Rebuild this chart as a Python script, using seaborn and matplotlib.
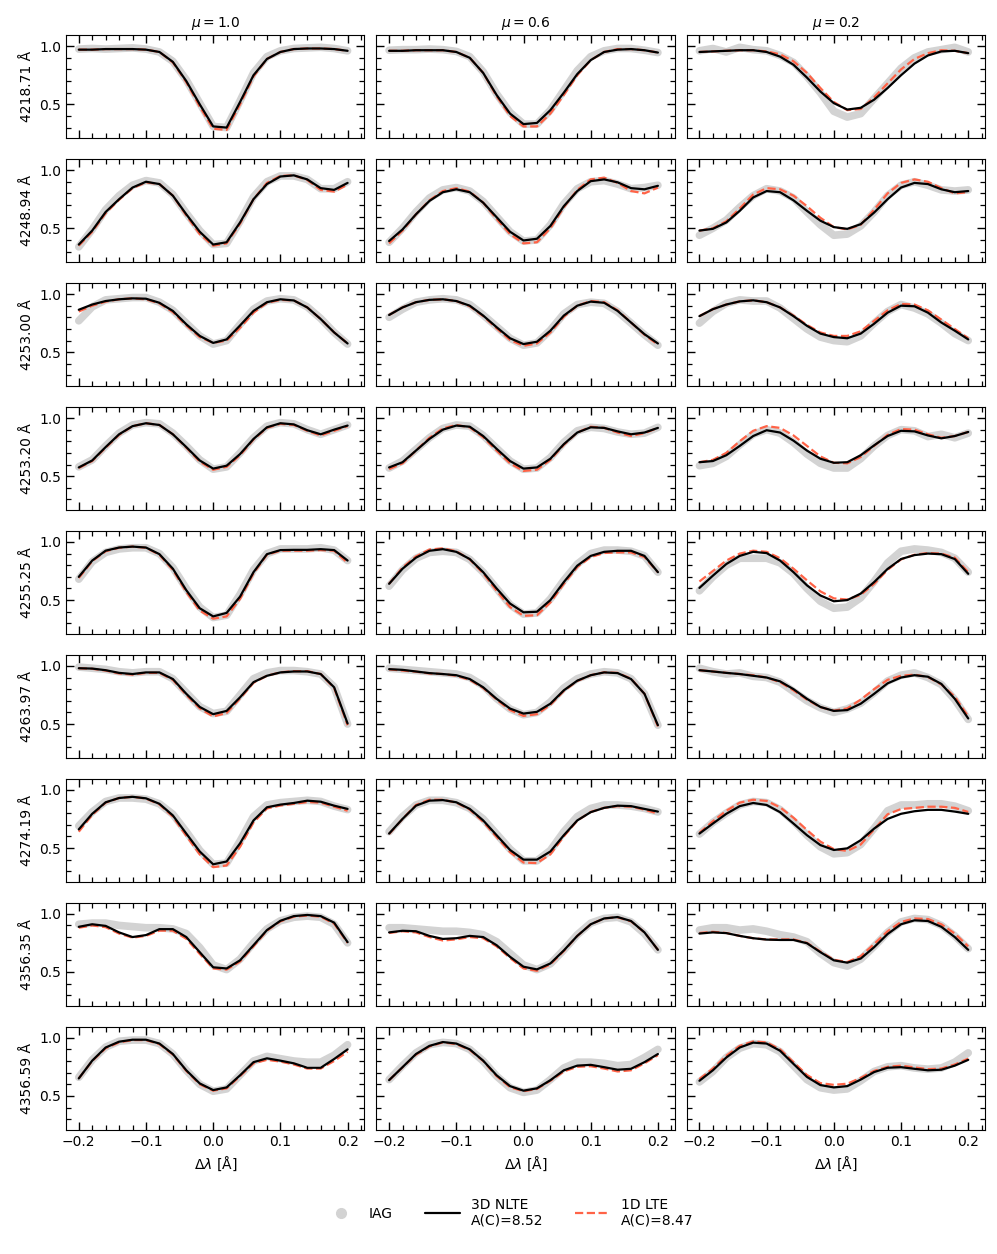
import numpy as np
import pandas as pd
import matplotlib
matplotlib.use("Agg")
import matplotlib.pyplot as plt
import seaborn as sns
from matplotlib.lines import Line2D
from matplotlib.ticker import AutoMinorLocator

# wavelength offset grid [A]
dlam = [-0.20, -0.18, -0.16, -0.14, -0.12, -0.10, -0.08, -0.06, -0.04, -0.02, 0.00,
        0.02, 0.04, 0.06, 0.08, 0.10, 0.12, 0.14, 0.16, 0.18, 0.20]
mus = [1.0, 0.6, 0.2]
line_names = ["4218.71", "4248.94", "4253.00", "4253.20", "4255.25",
              "4263.97", "4274.19", "4356.35", "4356.59"]

# each list: [mu=1.0, mu=0.6, mu=0.2]
nlte_4218 = [[0.97, 0.97, 0.975, 0.975, 0.975, 0.97, 0.95, 0.865, 0.70, 0.50, 0.31, 0.30, 0.52, 0.75, 0.89, 0.95, 0.975, 0.98, 0.98, 0.975, 0.96],
             [0.96, 0.96, 0.965, 0.965, 0.965, 0.95, 0.90, 0.77, 0.58, 0.42, 0.33, 0.34, 0.45, 0.60, 0.76, 0.88, 0.95, 0.97, 0.975, 0.965, 0.945],
             [0.95, 0.955, 0.96, 0.965, 0.965, 0.95, 0.91, 0.84, 0.73, 0.61, 0.51, 0.455, 0.47, 0.54, 0.64, 0.75, 0.85, 0.92, 0.955, 0.96, 0.94]]
lte_4218 = [[0.97, 0.97, 0.975, 0.975, 0.975, 0.97, 0.95, 0.86, 0.69, 0.48, 0.29, 0.28, 0.50, 0.74, 0.89, 0.95, 0.975, 0.98, 0.98, 0.975, 0.96],
            [0.96, 0.96, 0.965, 0.965, 0.965, 0.95, 0.90, 0.77, 0.57, 0.40, 0.31, 0.31, 0.42, 0.58, 0.75, 0.88, 0.95, 0.975, 0.975, 0.965, 0.945],
            [0.95, 0.955, 0.96, 0.965, 0.965, 0.955, 0.93, 0.87, 0.77, 0.64, 0.52, 0.45, 0.46, 0.56, 0.68, 0.80, 0.89, 0.94, 0.965, 0.96, 0.94]]
iag_4218 = [[0.975, 0.98, 0.975, 0.98, 0.985, 0.975, 0.95, 0.87, 0.71, 0.51, 0.31, 0.30, 0.53, 0.77, 0.91, 0.96, 0.98, 0.985, 0.99, 0.98, 0.96],
            [0.965, 0.97, 0.97, 0.975, 0.97, 0.955, 0.91, 0.78, 0.59, 0.43, 0.33, 0.33, 0.45, 0.62, 0.79, 0.91, 0.96, 0.98, 0.98, 0.965, 0.945],
            [0.96, 0.98, 0.95, 0.99, 0.97, 0.96, 0.92, 0.86, 0.74, 0.60, 0.44, 0.39, 0.42, 0.55, 0.68, 0.81, 0.90, 0.95, 0.97, 0.99, 0.95]]

nlte_4248 = [[0.36, 0.48, 0.64, 0.75, 0.85, 0.90, 0.88, 0.78, 0.62, 0.47, 0.36, 0.38, 0.55, 0.75, 0.88, 0.945, 0.955, 0.92, 0.845, 0.83, 0.89],
             [0.39, 0.49, 0.62, 0.735, 0.81, 0.835, 0.81, 0.72, 0.595, 0.47, 0.395, 0.41, 0.52, 0.69, 0.82, 0.905, 0.92, 0.895, 0.845, 0.835, 0.865],
             [0.48, 0.495, 0.55, 0.65, 0.765, 0.82, 0.81, 0.74, 0.65, 0.565, 0.51, 0.495, 0.535, 0.635, 0.75, 0.85, 0.89, 0.88, 0.835, 0.81, 0.82]]
lte_4248 = [[0.35, 0.47, 0.63, 0.745, 0.845, 0.895, 0.88, 0.78, 0.61, 0.45, 0.35, 0.37, 0.54, 0.75, 0.89, 0.95, 0.955, 0.915, 0.83, 0.815, 0.875],
            [0.37, 0.48, 0.62, 0.74, 0.82, 0.845, 0.815, 0.72, 0.58, 0.45, 0.37, 0.38, 0.50, 0.68, 0.83, 0.92, 0.935, 0.89, 0.82, 0.80, 0.85],
            [0.48, 0.50, 0.56, 0.67, 0.79, 0.845, 0.835, 0.78, 0.69, 0.59, 0.51, 0.49, 0.53, 0.66, 0.80, 0.89, 0.92, 0.90, 0.845, 0.80, 0.81]]
iag_4248 = [[0.34, 0.49, 0.66, 0.78, 0.87, 0.91, 0.89, 0.79, 0.63, 0.48, 0.36, 0.37, 0.56, 0.77, 0.90, 0.95, 0.95, 0.92, 0.84, 0.84, 0.90],
            [0.38, 0.50, 0.64, 0.76, 0.83, 0.85, 0.82, 0.73, 0.60, 0.47, 0.39, 0.40, 0.53, 0.71, 0.84, 0.90, 0.91, 0.88, 0.84, 0.85, 0.87],
            [0.44, 0.50, 0.57, 0.68, 0.78, 0.84, 0.82, 0.76, 0.64, 0.53, 0.44, 0.45, 0.52, 0.64, 0.78, 0.87, 0.90, 0.87, 0.83, 0.82, 0.83]]

nlte_4253a = [[0.865, 0.91, 0.94, 0.955, 0.963, 0.96, 0.925, 0.855, 0.74, 0.64, 0.58, 0.61, 0.73, 0.855, 0.93, 0.955, 0.945, 0.885, 0.785, 0.67, 0.575],
              [0.82, 0.885, 0.93, 0.95, 0.955, 0.94, 0.90, 0.815, 0.715, 0.62, 0.57, 0.59, 0.685, 0.815, 0.90, 0.935, 0.925, 0.855, 0.755, 0.655, 0.575],
              [0.81, 0.87, 0.91, 0.937, 0.946, 0.93, 0.885, 0.81, 0.727, 0.66, 0.63, 0.62, 0.66, 0.745, 0.84, 0.90, 0.895, 0.84, 0.755, 0.685, 0.61]]
lte_4253a = [[0.85, 0.90, 0.935, 0.955, 0.963, 0.955, 0.92, 0.845, 0.73, 0.63, 0.58, 0.60, 0.71, 0.84, 0.925, 0.95, 0.945, 0.885, 0.785, 0.67, 0.575],
             [0.82, 0.885, 0.93, 0.95, 0.955, 0.94, 0.895, 0.81, 0.705, 0.605, 0.555, 0.575, 0.67, 0.805, 0.90, 0.94, 0.93, 0.86, 0.755, 0.65, 0.565],
             [0.81, 0.87, 0.91, 0.937, 0.946, 0.93, 0.885, 0.815, 0.735, 0.67, 0.64, 0.64, 0.68, 0.77, 0.86, 0.915, 0.91, 0.86, 0.78, 0.70, 0.62]]
iag_4253a = [[0.77, 0.89, 0.95, 0.96, 0.97, 0.97, 0.93, 0.86, 0.75, 0.64, 0.57, 0.60, 0.74, 0.87, 0.94, 0.96, 0.95, 0.89, 0.79, 0.67, 0.57],
             [0.80, 0.87, 0.93, 0.95, 0.96, 0.95, 0.91, 0.82, 0.72, 0.62, 0.56, 0.58, 0.69, 0.83, 0.91, 0.93, 0.92, 0.85, 0.75, 0.65, 0.56],
             [0.75, 0.85, 0.92, 0.95, 0.94, 0.94, 0.88, 0.79, 0.70, 0.63, 0.60, 0.59, 0.64, 0.75, 0.85, 0.91, 0.88, 0.83, 0.75, 0.66, 0.60]]

nlte_4253b = [[0.575, 0.635, 0.75, 0.86, 0.93, 0.955, 0.94, 0.86, 0.75, 0.635, 0.565, 0.59, 0.69, 0.82, 0.92, 0.955, 0.945, 0.895, 0.86, 0.90, 0.935],
              [0.575, 0.62, 0.72, 0.82, 0.90, 0.935, 0.925, 0.845, 0.735, 0.63, 0.565, 0.575, 0.65, 0.775, 0.875, 0.92, 0.915, 0.885, 0.86, 0.875, 0.915],
              [0.62, 0.63, 0.68, 0.76, 0.845, 0.895, 0.875, 0.805, 0.72, 0.65, 0.615, 0.62, 0.68, 0.765, 0.845, 0.89, 0.885, 0.85, 0.825, 0.845, 0.88]]
lte_4253b = [[0.57, 0.63, 0.745, 0.855, 0.93, 0.955, 0.94, 0.86, 0.745, 0.625, 0.555, 0.58, 0.68, 0.815, 0.915, 0.95, 0.94, 0.89, 0.85, 0.89, 0.93],
             [0.56, 0.61, 0.72, 0.83, 0.91, 0.94, 0.92, 0.835, 0.72, 0.61, 0.545, 0.555, 0.64, 0.77, 0.875, 0.925, 0.915, 0.875, 0.845, 0.87, 0.915],
             [0.62, 0.64, 0.70, 0.80, 0.89, 0.93, 0.915, 0.85, 0.76, 0.67, 0.615, 0.61, 0.665, 0.76, 0.855, 0.905, 0.90, 0.86, 0.83, 0.845, 0.88]]
iag_4253b = [[0.58, 0.64, 0.76, 0.87, 0.94, 0.96, 0.95, 0.87, 0.76, 0.64, 0.56, 0.58, 0.70, 0.83, 0.93, 0.96, 0.95, 0.90, 0.86, 0.90, 0.94],
             [0.57, 0.63, 0.73, 0.83, 0.91, 0.94, 0.93, 0.85, 0.74, 0.63, 0.56, 0.57, 0.66, 0.79, 0.89, 0.92, 0.91, 0.88, 0.86, 0.87, 0.92],
             [0.59, 0.61, 0.67, 0.77, 0.86, 0.90, 0.87, 0.79, 0.69, 0.61, 0.57, 0.57, 0.65, 0.76, 0.85, 0.90, 0.89, 0.84, 0.86, 0.83, 0.87]]

nlte_4255 = [[0.70, 0.84, 0.925, 0.952, 0.96, 0.952, 0.895, 0.77, 0.585, 0.43, 0.36, 0.39, 0.53, 0.74, 0.895, 0.93, 0.932, 0.932, 0.938, 0.93, 0.84],
             [0.64, 0.77, 0.865, 0.924, 0.938, 0.915, 0.853, 0.74, 0.60, 0.47, 0.395, 0.40, 0.50, 0.655, 0.796, 0.88, 0.915, 0.924, 0.924, 0.88, 0.74],
             [0.605, 0.71, 0.81, 0.88, 0.915, 0.904, 0.84, 0.74, 0.627, 0.54, 0.49, 0.50, 0.556, 0.655, 0.768, 0.853, 0.887, 0.90, 0.895, 0.853, 0.726]]
lte_4255 = [[0.69, 0.835, 0.92, 0.95, 0.96, 0.95, 0.89, 0.76, 0.57, 0.41, 0.34, 0.36, 0.51, 0.73, 0.89, 0.925, 0.925, 0.925, 0.93, 0.925, 0.82],
            [0.64, 0.78, 0.875, 0.935, 0.945, 0.92, 0.85, 0.73, 0.58, 0.44, 0.365, 0.37, 0.48, 0.64, 0.785, 0.87, 0.905, 0.91, 0.91, 0.87, 0.74],
            [0.66, 0.75, 0.84, 0.90, 0.925, 0.915, 0.86, 0.77, 0.67, 0.575, 0.515, 0.505, 0.545, 0.64, 0.76, 0.85, 0.89, 0.905, 0.90, 0.865, 0.74]]
iag_4255 = [[0.68, 0.83, 0.91, 0.94, 0.95, 0.95, 0.90, 0.78, 0.60, 0.44, 0.35, 0.37, 0.55, 0.76, 0.90, 0.94, 0.94, 0.94, 0.95, 0.93, 0.84],
            [0.62, 0.76, 0.86, 0.91, 0.92, 0.91, 0.85, 0.74, 0.60, 0.46, 0.38, 0.39, 0.51, 0.67, 0.81, 0.90, 0.93, 0.93, 0.92, 0.88, 0.74],
            [0.58, 0.70, 0.80, 0.86, 0.86, 0.86, 0.82, 0.73, 0.60, 0.49, 0.43, 0.44, 0.52, 0.66, 0.82, 0.92, 0.94, 0.93, 0.91, 0.86, 0.74]]

nlte_4263 = [[0.98, 0.977, 0.963, 0.94, 0.93, 0.944, 0.944, 0.887, 0.76, 0.647, 0.585, 0.613, 0.73, 0.86, 0.915, 0.944, 0.952, 0.952, 0.93, 0.816, 0.505],
             [0.972, 0.966, 0.952, 0.938, 0.93, 0.92, 0.887, 0.816, 0.717, 0.633, 0.59, 0.605, 0.675, 0.79, 0.873, 0.92, 0.944, 0.938, 0.887, 0.76, 0.49],
             [0.963, 0.952, 0.94, 0.93, 0.915, 0.90, 0.867, 0.80, 0.717, 0.647, 0.613, 0.62, 0.675, 0.76, 0.85, 0.90, 0.92, 0.907, 0.845, 0.717, 0.548]]
lte_4263 = [[0.98, 0.975, 0.96, 0.935, 0.925, 0.94, 0.94, 0.88, 0.75, 0.635, 0.565, 0.595, 0.72, 0.855, 0.915, 0.945, 0.955, 0.955, 0.93, 0.81, 0.49],
            [0.97, 0.96, 0.95, 0.935, 0.93, 0.915, 0.88, 0.81, 0.71, 0.62, 0.57, 0.585, 0.665, 0.785, 0.87, 0.92, 0.945, 0.94, 0.89, 0.76, 0.48],
            [0.963, 0.952, 0.94, 0.93, 0.92, 0.90, 0.86, 0.79, 0.71, 0.645, 0.615, 0.635, 0.71, 0.80, 0.88, 0.915, 0.925, 0.905, 0.84, 0.735, 0.565]]
iag_4263 = [[0.99, 0.98, 0.97, 0.95, 0.94, 0.95, 0.95, 0.89, 0.77, 0.65, 0.59, 0.61, 0.75, 0.89, 0.94, 0.96, 0.96, 0.95, 0.93, 0.82, 0.50],
            [0.98, 0.97, 0.96, 0.95, 0.94, 0.93, 0.90, 0.83, 0.72, 0.63, 0.58, 0.60, 0.69, 0.81, 0.89, 0.93, 0.95, 0.94, 0.89, 0.76, 0.49],
            [0.98, 0.95, 0.93, 0.94, 0.91, 0.90, 0.86, 0.78, 0.70, 0.64, 0.60, 0.63, 0.68, 0.77, 0.87, 0.92, 0.94, 0.90, 0.84, 0.71, 0.54]]

nlte_4274 = [[0.66, 0.794, 0.893, 0.93, 0.94, 0.927, 0.88, 0.78, 0.624, 0.47, 0.36, 0.384, 0.54, 0.737, 0.85, 0.873, 0.887, 0.907, 0.898, 0.864, 0.836],
             [0.624, 0.75, 0.864, 0.907, 0.912, 0.893, 0.836, 0.737, 0.61, 0.483, 0.40, 0.40, 0.47, 0.61, 0.737, 0.808, 0.845, 0.864, 0.86, 0.836, 0.813],
             [0.624, 0.71, 0.794, 0.86, 0.887, 0.87, 0.808, 0.71, 0.61, 0.525, 0.483, 0.497, 0.567, 0.667, 0.75, 0.794, 0.816, 0.828, 0.828, 0.813, 0.794]]
lte_4274 = [[0.64, 0.785, 0.89, 0.93, 0.94, 0.925, 0.875, 0.77, 0.605, 0.445, 0.335, 0.35, 0.51, 0.72, 0.84, 0.865, 0.88, 0.895, 0.89, 0.855, 0.82],
            [0.62, 0.75, 0.87, 0.915, 0.915, 0.89, 0.83, 0.725, 0.595, 0.465, 0.375, 0.37, 0.445, 0.60, 0.735, 0.81, 0.845, 0.86, 0.855, 0.83, 0.795],
            [0.63, 0.73, 0.82, 0.89, 0.915, 0.905, 0.85, 0.76, 0.655, 0.555, 0.49, 0.475, 0.53, 0.66, 0.79, 0.835, 0.845, 0.855, 0.855, 0.845, 0.81]]
iag_4274 = [[0.69, 0.81, 0.90, 0.93, 0.93, 0.92, 0.88, 0.79, 0.64, 0.48, 0.36, 0.37, 0.56, 0.77, 0.87, 0.89, 0.90, 0.91, 0.90, 0.86, 0.83],
            [0.64, 0.77, 0.87, 0.91, 0.91, 0.89, 0.84, 0.75, 0.62, 0.49, 0.39, 0.39, 0.48, 0.64, 0.77, 0.84, 0.87, 0.87, 0.86, 0.84, 0.81],
            [0.62, 0.72, 0.80, 0.87, 0.90, 0.89, 0.83, 0.73, 0.61, 0.51, 0.45, 0.46, 0.53, 0.67, 0.82, 0.87, 0.87, 0.88, 0.88, 0.86, 0.82]]

nlte_4356a = [[0.888, 0.91, 0.896, 0.84, 0.80, 0.817, 0.868, 0.868, 0.80, 0.67, 0.54, 0.53, 0.60, 0.73, 0.86, 0.94, 0.98, 0.99, 0.98, 0.924, 0.756],
              [0.84, 0.854, 0.85, 0.81, 0.784, 0.79, 0.81, 0.80, 0.73, 0.63, 0.545, 0.522, 0.573, 0.685, 0.81, 0.91, 0.96, 0.972, 0.938, 0.84, 0.69],
              [0.83, 0.84, 0.834, 0.81, 0.79, 0.778, 0.775, 0.775, 0.747, 0.67, 0.60, 0.58, 0.615, 0.713, 0.826, 0.91, 0.944, 0.938, 0.888, 0.80, 0.69]]
lte_4356a = [[0.88, 0.90, 0.885, 0.83, 0.795, 0.81, 0.855, 0.855, 0.785, 0.655, 0.53, 0.52, 0.59, 0.72, 0.855, 0.935, 0.975, 0.985, 0.975, 0.915, 0.75],
             [0.835, 0.85, 0.84, 0.80, 0.77, 0.78, 0.80, 0.79, 0.72, 0.62, 0.53, 0.51, 0.565, 0.68, 0.81, 0.91, 0.96, 0.97, 0.935, 0.84, 0.69],
             [0.835, 0.845, 0.835, 0.81, 0.79, 0.78, 0.78, 0.78, 0.75, 0.675, 0.605, 0.585, 0.635, 0.74, 0.85, 0.93, 0.96, 0.955, 0.91, 0.83, 0.72]]
iag_4356a = [[0.91, 0.92, 0.92, 0.90, 0.89, 0.88, 0.88, 0.87, 0.83, 0.71, 0.56, 0.52, 0.61, 0.75, 0.87, 0.94, 0.97, 0.98, 0.97, 0.91, 0.75],
             [0.88, 0.88, 0.87, 0.86, 0.85, 0.85, 0.84, 0.82, 0.76, 0.66, 0.56, 0.52, 0.57, 0.69, 0.82, 0.92, 0.96, 0.97, 0.93, 0.83, 0.69],
             [0.86, 0.88, 0.88, 0.86, 0.87, 0.85, 0.82, 0.80, 0.76, 0.66, 0.58, 0.55, 0.61, 0.72, 0.84, 0.93, 0.96, 0.95, 0.90, 0.81, 0.70]]

nlte_4356b = [[0.65, 0.803, 0.916, 0.966, 0.983, 0.983, 0.95, 0.86, 0.72, 0.607, 0.55, 0.573, 0.677, 0.79, 0.823, 0.803, 0.78, 0.742, 0.742, 0.817, 0.90],
              [0.635, 0.747, 0.86, 0.93, 0.963, 0.95, 0.90, 0.803, 0.677, 0.584, 0.545, 0.565, 0.635, 0.72, 0.76, 0.767, 0.747, 0.725, 0.733, 0.79, 0.86],
              [0.63, 0.72, 0.83, 0.916, 0.958, 0.95, 0.888, 0.775, 0.663, 0.593, 0.573, 0.584, 0.64, 0.705, 0.742, 0.747, 0.733, 0.72, 0.725, 0.76, 0.81]]
lte_4356b = [[0.65, 0.80, 0.91, 0.96, 0.98, 0.98, 0.945, 0.855, 0.715, 0.60, 0.545, 0.565, 0.67, 0.78, 0.81, 0.795, 0.77, 0.735, 0.735, 0.80, 0.88],
             [0.635, 0.745, 0.855, 0.925, 0.96, 0.945, 0.895, 0.80, 0.67, 0.575, 0.54, 0.56, 0.63, 0.71, 0.75, 0.755, 0.735, 0.71, 0.72, 0.78, 0.85],
             [0.645, 0.735, 0.845, 0.93, 0.968, 0.96, 0.90, 0.79, 0.68, 0.61, 0.595, 0.605, 0.655, 0.715, 0.75, 0.76, 0.745, 0.73, 0.735, 0.77, 0.82]]
iag_4356b = [[0.66, 0.81, 0.92, 0.97, 0.98, 0.98, 0.95, 0.86, 0.72, 0.60, 0.54, 0.56, 0.68, 0.80, 0.84, 0.82, 0.80, 0.79, 0.79, 0.85, 0.94],
             [0.64, 0.76, 0.87, 0.94, 0.96, 0.95, 0.90, 0.80, 0.67, 0.57, 0.53, 0.55, 0.64, 0.74, 0.79, 0.79, 0.78, 0.76, 0.77, 0.83, 0.90],
             [0.62, 0.71, 0.83, 0.91, 0.95, 0.94, 0.88, 0.76, 0.64, 0.57, 0.55, 0.56, 0.63, 0.71, 0.75, 0.76, 0.74, 0.73, 0.74, 0.79, 0.87]]

nlte_all = [nlte_4218, nlte_4248, nlte_4253a, nlte_4253b, nlte_4255, nlte_4263, nlte_4274, nlte_4356a, nlte_4356b]
lte_all = [lte_4218, lte_4248, lte_4253a, lte_4253b, lte_4255, lte_4263, lte_4274, lte_4356a, lte_4356b]
iag_all = [iag_4218, iag_4248, iag_4253a, iag_4253b, iag_4255, iag_4263, iag_4274, iag_4356a, iag_4356b]

# long table
rows = []
for name, nl, lt, ia in zip(line_names, nlte_all, lte_all, iag_all):
    for j, mu in enumerate(mus):
        for k, x in enumerate(dlam):
            rows.append((name, mu, x, "IAG", ia[j][k]))
            rows.append((name, mu, x, "1D LTE", lt[j][k]))
            rows.append((name, mu, x, "3D NLTE", nl[j][k]))
df = pd.DataFrame(rows, columns=["line", "mu", "dlam", "model", "flux"])

sns.set_style("ticks", {"axes.edgecolor": "black", "xtick.color": "black",
                        "ytick.color": "black", "text.color": "black",
                        "axes.labelcolor": "black"})
plt.rcParams["font.family"] = ["DejaVu Sans"]
plt.rcParams["font.size"] = 10
plt.rcParams["mathtext.fontset"] = "dejavusans"

iag_col = "lightgrey"
lte_col = "tomato"

fig, axes = plt.subplots(9, 3, figsize=(9.97, 12.54), dpi=100, sharex=True, sharey=True)
plt.subplots_adjust(left=0.0662, right=0.988, top=0.972, bottom=0.0989, hspace=0.2, wspace=0.04)

for i, name in enumerate(line_names):
    for j, mu in enumerate(mus):
        ax = axes[i, j]
        sub = df[(df["line"] == name) & (df["mu"] == mu)]
        sns.lineplot(data=sub[sub["model"] == "IAG"], x="dlam", y="flux", ax=ax,
                     color=iag_col, lw=5.5, solid_capstyle="round", zorder=1)
        sns.lineplot(data=sub[sub["model"] == "1D LTE"], x="dlam", y="flux", ax=ax,
                     color=lte_col, lw=1.6, ls="--", zorder=2)
        sns.lineplot(data=sub[sub["model"] == "3D NLTE"], x="dlam", y="flux", ax=ax,
                     color="black", lw=1.6, zorder=3)
        ax.set_xlim(-0.219, 0.225)
        ax.set_ylim(0.207, 1.095)
        ax.set_xticks([-0.2, -0.1, 0.0, 0.1, 0.2])
        ax.set_yticks([0.5, 1.0])
        ax.xaxis.set_minor_locator(AutoMinorLocator())
        ax.yaxis.set_minor_locator(AutoMinorLocator())
        ax.tick_params(which="both", direction="in", top=True, right=True, labelsize=10,
                       color="black", labelcolor="black")
        ax.tick_params(which="major", length=6, width=1)
        ax.tick_params(which="minor", length=3.5, width=0.9)
        for sp in ax.spines.values():
            sp.set_color("black")
        ax.set_xlabel("")
        ax.set_ylabel("")
        if i == 0:
            ax.set_title(rf"$\mu = {mu}$", fontsize=10)
        if j == 0:
            ax.set_ylabel(f"{name} Å", fontsize=10)
        if i == len(line_names) - 1:
            ax.set_xlabel(r"$\Delta\lambda$ [Å]", fontsize=10)

handles = [Line2D([], [], marker="o", ls="", color=iag_col, markersize=7),
           Line2D([], [], color="black", lw=1.6),
           Line2D([], [], color=lte_col, lw=1.6, ls="--")]
labels = ["IAG", "3D NLTE\nA(C)=8.52", "1D LTE\nA(C)=8.47"]
fig.legend(handles, labels, loc="center", bbox_to_anchor=(0.51, 0.033), ncol=3,
           frameon=False, fontsize=10, handlelength=2.5, columnspacing=2.3)

fig.savefig("out.png", dpi=100)
